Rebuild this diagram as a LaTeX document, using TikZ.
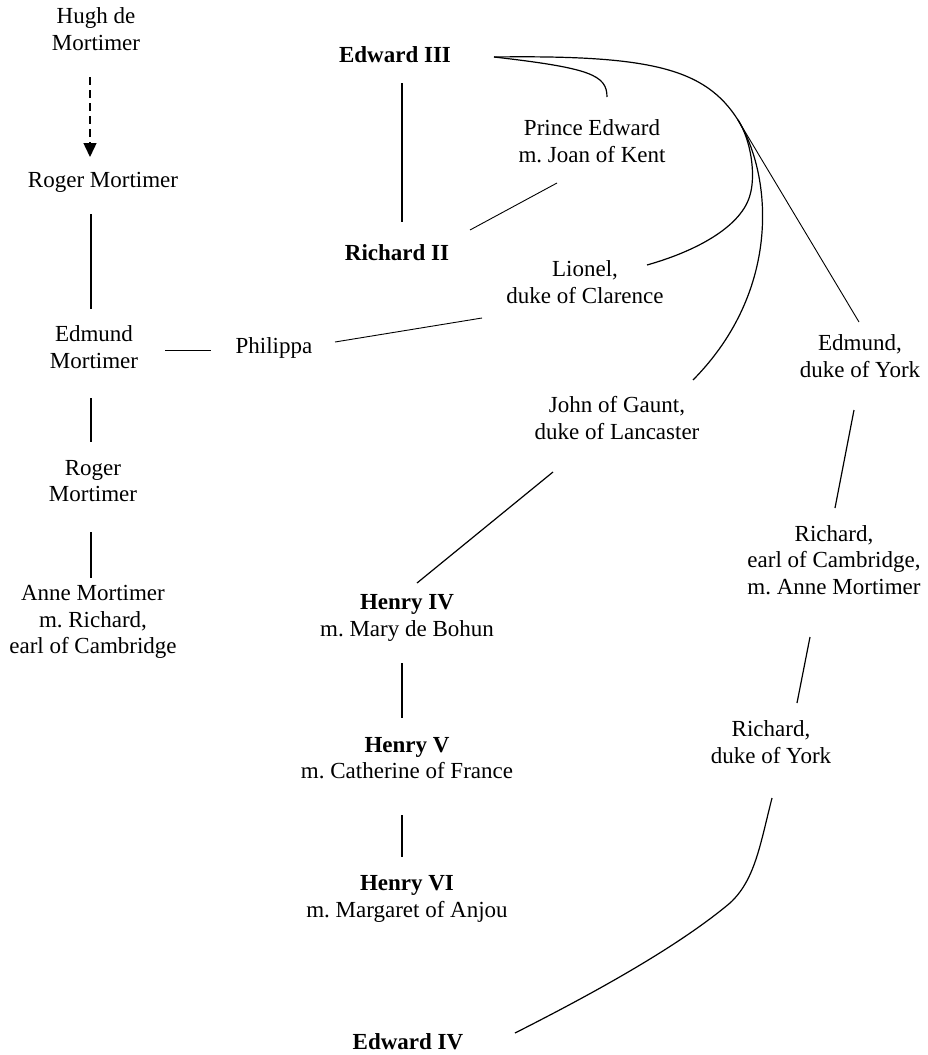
\documentclass[tikz,border=0pt]{standalone}
\usepackage{fontspec}
\setmainfont{Liberation Serif}
\usetikzlibrary{arrows.meta}
\newcommand{\names}{\fontsize{23}{26.5}\selectfont}
\frenchspacing

\begin{document}
\begin{tikzpicture}[x=1pt,y=-1pt,font=\names,
  person/.style={align=center,inner sep=0},
  link/.style={line width=1.2pt},
  thinlink/.style={line width=0.9pt}]
\useasboundingbox (0,0) rectangle (928,1055);
% Mortimer side
\node[person] (hugh) at (96,29) {Hugh de\\Mortimer};
\node[person] (roger1) at (103,182) {Roger Mortimer};
\node[person] (edmundM) at (94,347) {Edmund\\Mortimer};
\node[person] (roger2) at (93,481) {Roger\\Mortimer};
\node[person] (anne) at (93,622) {Anne Mortimer\\m. Richard,\\earl of Cambridge};
\node[person] (philippa) at (274,348) {Philippa};
% Edward III and his sons
\node[person] (edward3) at (395,55) {\textbf{Edward III}};
\node[person] (prince) at (592,141) {Prince Edward\\m. Joan of Kent};
\node[person] (richard2) at (397,253) {\textbf{Richard II}};
\node[person] (lionel) at (585,282) {Lionel,\\duke of Clarence};
\node[person] (edmundY) at (860,356) {Edmund,\\duke of York};
\node[person] (gaunt) at (617,418) {John of Gaunt,\\duke of Lancaster};
% Lancaster
\node[person] (henry4) at (407,618) {\textbf{Henry IV}\\m. Mary de Bohun};
\node[person] (henry5) at (407,758) {\textbf{Henry V}\\m. Catherine of France};
\node[person] (henry6) at (407,899) {\textbf{Henry VI}\\m. Margaret of Anjou};
% York
\node[person] (richardC) at (834,560) {Richard,\\earl of Cambridge,\\m. Anne Mortimer};
\node[person] (richardY) at (771,742) {Richard,\\duke of York};
\node[person] (edward4) at (408,1042) {\textbf{Edward IV}};

\coordinate (fork) at (738,120);

\draw[link,line width=1.4pt,dash pattern=on 8pt off 5pt,-{Triangle[length=14pt,width=13pt]}]
  ([shift={(-6,48)}]hugh.center) -- ([shift={(-13,-25)}]roger1.center);
\draw[link] ([shift={(-12,32)}]roger1.center) -- ([shift={(-3,-38)}]edmundM.center);
\draw[thinlink] ([shift={(71,3)}]edmundM.center) -- ([shift={(-63,2)}]philippa.center);
\draw[link] ([shift={(-3,51)}]edmundM.center) -- ([shift={(-2,-39)}]roger2.center);
\draw[link] ([shift={(-2,51)}]roger2.center) -- ([shift={(-2,-44)}]anne.center);
\draw[thinlink] ([shift={(61,-6)}]philippa.center) -- ([shift={(-103,36)}]lionel.center);

\draw[link] ([shift={(7,28)}]edward3.center) -- ([shift={(5,-31)}]richard2.center);
\draw[thinlink] ([shift={(-35,42)}]prince.center) -- ([shift={(73,-23)}]richard2.center);
\draw[link] ([shift={(99,2)}]edward3.center) .. controls (590,68) and (607,75) .. ([shift={(15,-44)}]prince.center);
\draw[link] ([shift={(99,2)}]edward3.center) .. controls (650,55) and (705,68) .. (fork);
\draw[link] (fork) .. controls (751,140) and (756,175) .. (750,195)
  .. controls (742,225) and (700,250) .. ([shift={(62,-17)}]lionel.center);
\draw[link] (fork) .. controls (772,175) and (782,290) .. ([shift={(76,-38)}]gaunt.center);
\draw[thinlink] (fork) -- ([shift={(-1,-34)}]edmundY.center);

\draw[link] ([shift={(-64,54)}]gaunt.center) -- ([shift={(10,-35)}]henry4.center);
\draw[link] ([shift={(-5,45)}]henry4.center) -- ([shift={(-5,-40)}]henry5.center);
\draw[link] ([shift={(-5,57)}]henry5.center) -- ([shift={(-5,-42)}]henry6.center);

\draw[link] ([shift={(-6,54)}]edmundY.center) -- ([shift={(1,-52)}]richardC.center);
\draw[link] ([shift={(-24,77)}]richardC.center) -- ([shift={(26,-39)}]richardY.center);
\draw[link] ([shift={(1,56)}]richardY.center) .. controls (760,845) and (755,880) .. (730,903)
  .. controls (680,945) and (600,990) .. ([shift={(107,-9)}]edward4.center);
\end{tikzpicture}
\end{document}
